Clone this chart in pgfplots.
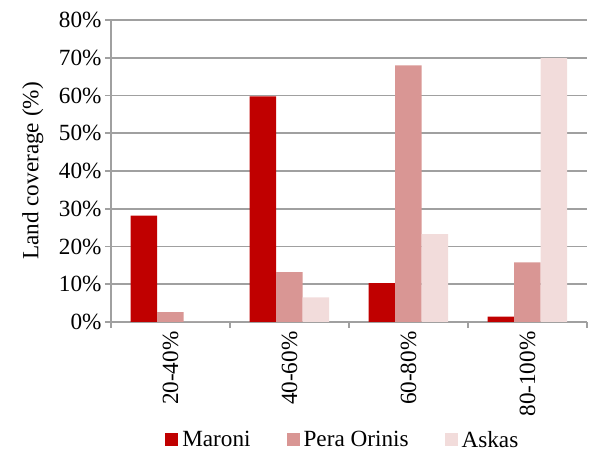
\documentclass[border=0pt]{standalone}
\usepackage{fontspec}
\setmainfont{Liberation Serif}
\usepackage{pgfplots}
\pgfplotsset{compat=1.18}
\definecolor{maroni}{HTML}{C00000}
\definecolor{pera}{HTML}{D99694}
\definecolor{askas}{HTML}{F2DCDB}
\definecolor{axgray}{HTML}{A0A0A0}
\newcommand{\cf}{\fontsize{23.2}{27}\selectfont}
\begin{document}
\begin{tikzpicture}
\useasboundingbox (-111pt,-135pt) rectangle (481pt,322pt);
\begin{axis}[
  at={(0pt,0pt)}, anchor=south west,
  scale only axis, width=476pt, height=302pt,
  ybar=0pt, bar width=26.5pt,
  xmin=-0.5, xmax=3.5, ymin=0, ymax=80,
  axis x line*=bottom, axis y line*=left,
  axis line style={draw=axgray, line width=2.2pt},
  ymajorgrids, grid style={draw=axgray, line width=1.8pt},
  ytick={0,10,20,30,40,50,60,70,80},
  yticklabels={0\%,10\%,20\%,30\%,40\%,50\%,60\%,70\%,80\%},
  ytick style={draw=axgray, line width=1.8pt},
  tick align=outside, major tick length=6pt,
  xtick={0,1,2,3},
  xticklabels={20-40\%,40-60\%,60-80\%,80-100\%},
  xtick style={draw=none},
  xticklabel style={rotate=90, anchor=east},
  extra x ticks={-0.5,0.5,1.5,2.5,3.5},
  extra x tick labels={},
  extra x tick style={xtick style={draw=axgray, line width=1.8pt}, major tick length=6pt},
  every tick label/.append style={font=\cf, text=black},
  ylabel={Land coverage (\%)},
  ylabel style={font=\cf, at={(axis description cs:-0.164,0.5)}, anchor=center},
  legend style={draw=none, fill=none, font=\cf, at={(axis description cs:0.487,-0.39)}, anchor=center,
    legend columns=-1,
    /tikz/every odd column/.append style={column sep=2pt},
    /tikz/every even column/.append style={column sep=34pt}},
  legend image code/.code={\fill[#1, draw=none] (0pt,-6.5pt) rectangle (13pt,6.5pt);},
]
\addplot[fill=maroni, draw=none] coordinates {(0,28.2) (1,59.8) (2,10.3) (3,1.4)};
\addplot[fill=pera, draw=none] coordinates {(0,2.6) (1,13.2) (2,68.0) (3,15.8)};
\addplot[fill=askas, draw=none] coordinates {(0,0) (1,6.5) (2,23.3) (3,69.9)};
\legend{Maroni, Pera Orinis, Askas}
\end{axis}
\end{tikzpicture}
\end{document}
